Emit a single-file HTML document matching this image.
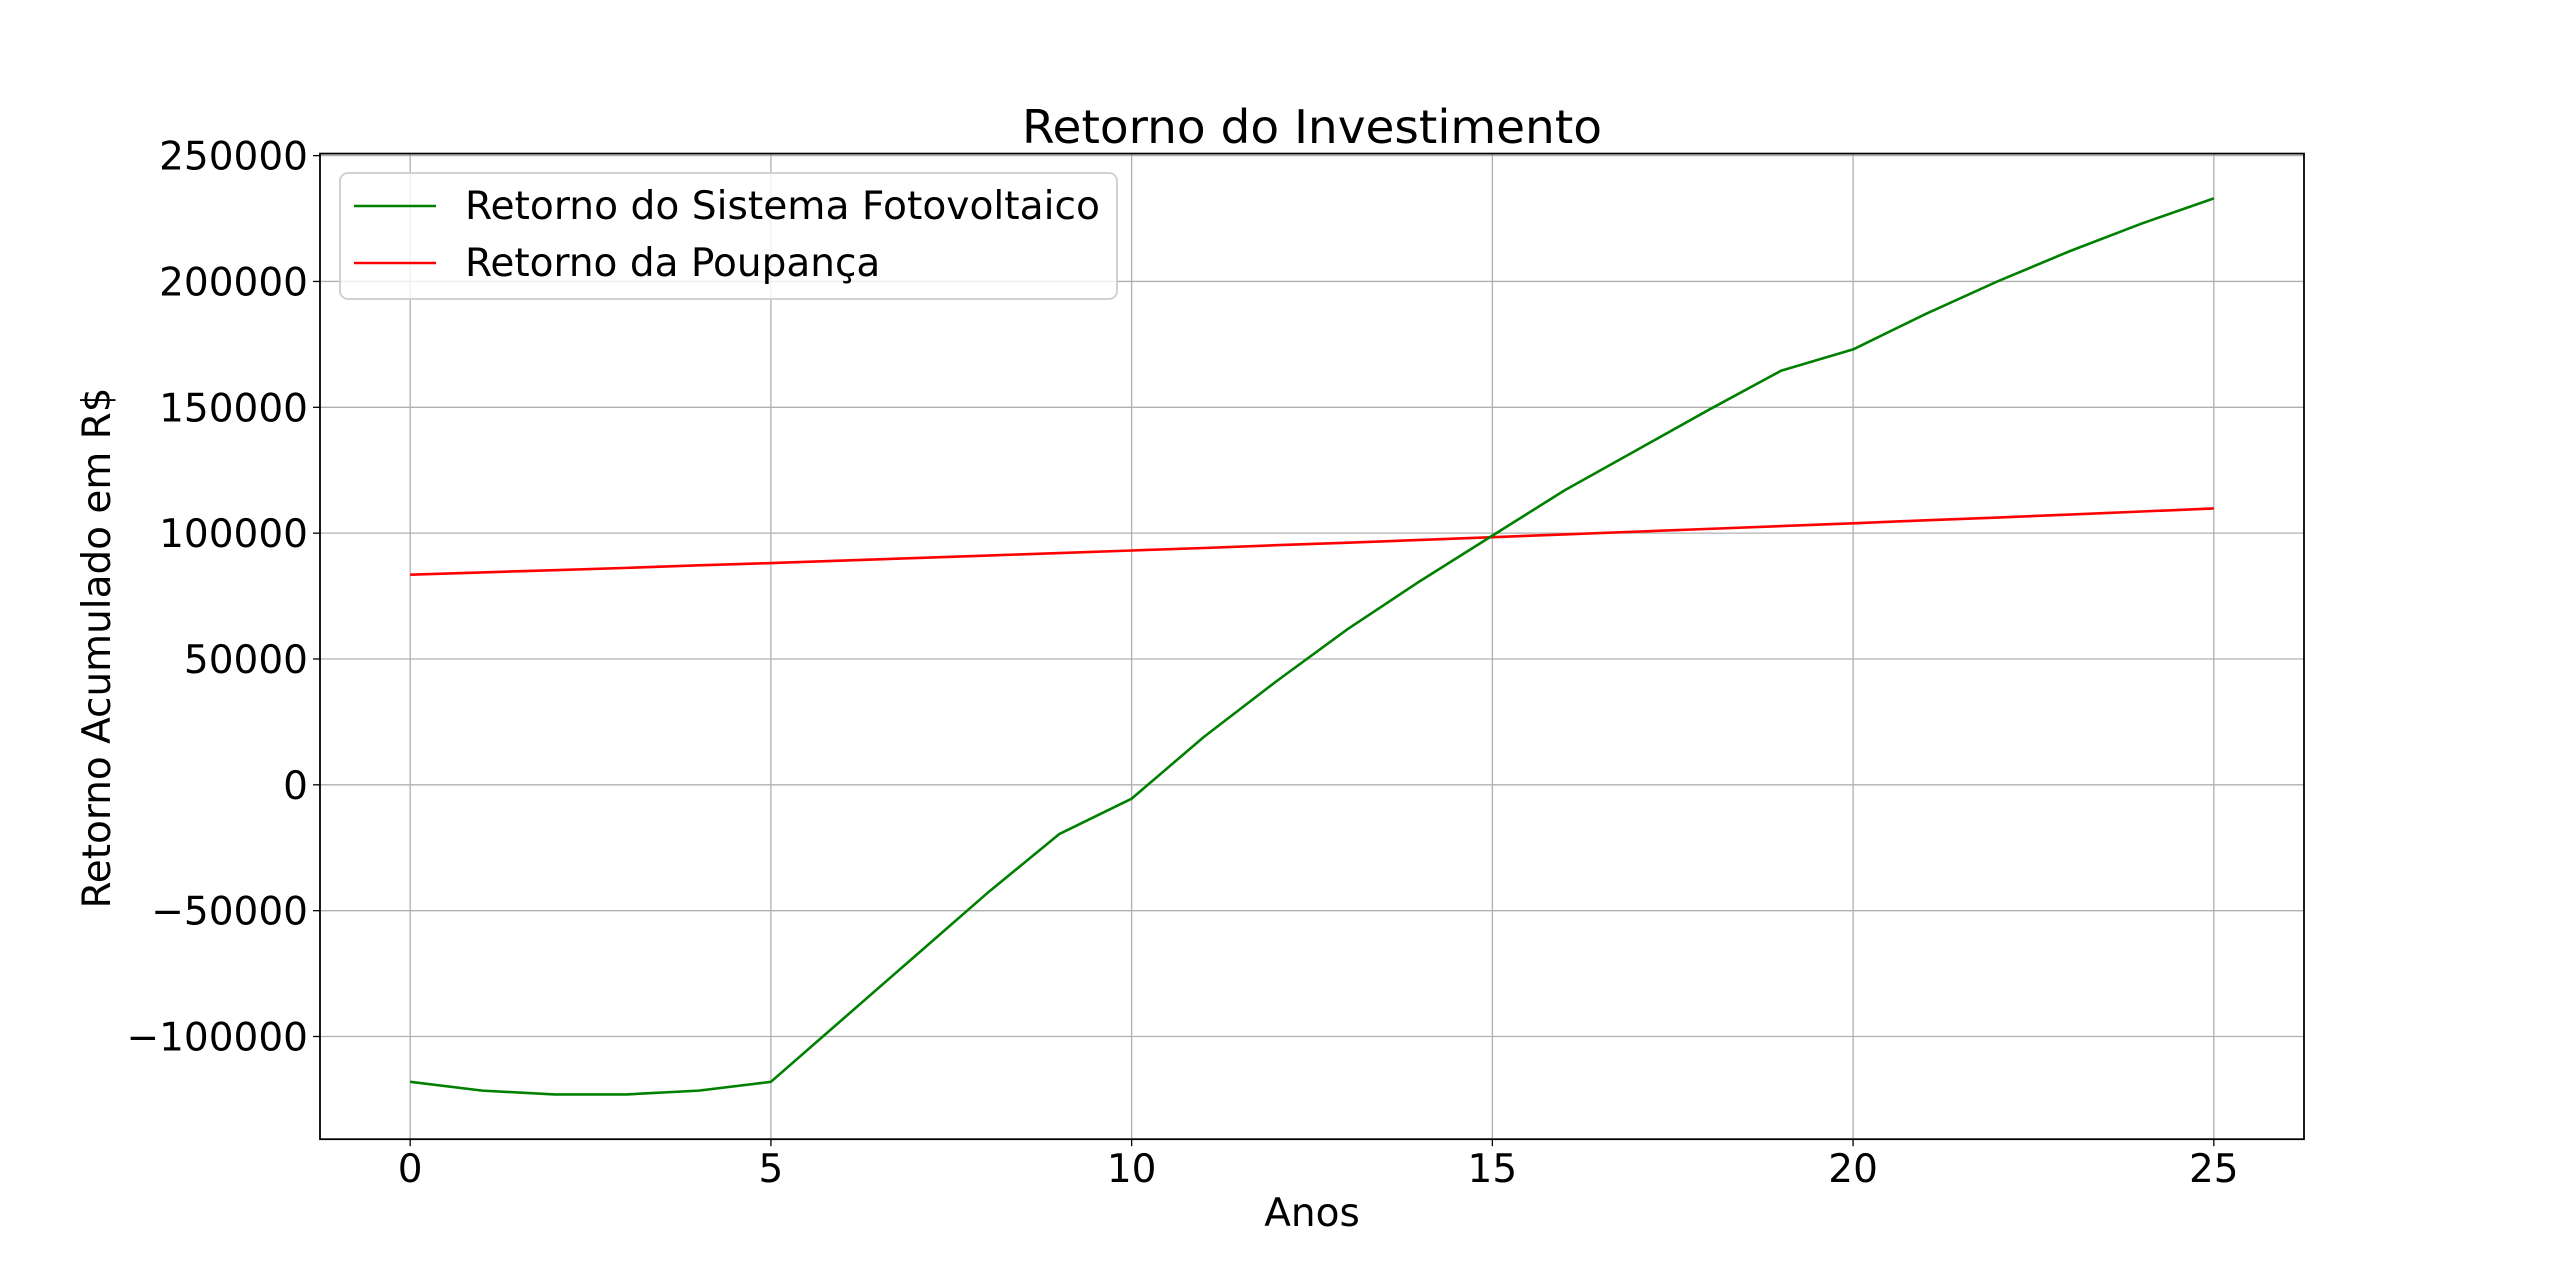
<!DOCTYPE html>
<html><head><meta charset="utf-8"><style>
html,body{margin:0;padding:0;background:#fff;}
svg{display:block;font-family:"DejaVu Sans","Liberation Sans",sans-serif;}
</style></head><body>
<svg id="chart" width="2560" height="1280" viewBox="0 0 2560 1280" xmlns="http://www.w3.org/2000/svg">
<rect width="2560" height="1280" fill="#fff"/>
<g id="grid"></g>
<g id="series"></g>
<rect x="320" y="153.6" width="1984" height="985.6" fill="none" stroke="#000" stroke-width="1.8"/>
<g id="ticks"></g>
<text x="1312" y="143" font-size="46" text-anchor="middle" textLength="580" lengthAdjust="spacingAndGlyphs">Retorno do Investimento</text>
<text x="1312" y="1226" font-size="39" text-anchor="middle">Anos</text>
<text transform="translate(110,648) rotate(-90)" font-size="39" text-anchor="middle" textLength="521" lengthAdjust="spacingAndGlyphs">Retorno Acumulado em R$</text>
<g>
<rect x="340" y="173" width="777" height="126" rx="8" fill="#fff" fill-opacity="0.8" stroke="#ccc" stroke-width="1.8"/>
<line x1="354" y1="206" x2="436" y2="206" stroke="#008000" stroke-width="2.6"/>
<text x="465" y="219" font-size="39" textLength="635" lengthAdjust="spacingAndGlyphs">Retorno do Sistema Fotovoltaico</text>
<line x1="354" y1="263" x2="436" y2="263" stroke="#ff0000" stroke-width="2.6"/>
<text x="465" y="276" font-size="39">Retorno da Poupança</text>
</g>
</svg>
<script>
const years = [0,1,2,3,4,5,6,7,8,9,10,11,12,13,14,15,16,17,18,19,20,21,22,23,24,25];
const fotovoltaico = [-118000,-121500,-123000,-123000,-121500,-118000,-93000,-68000,-43000,-19500,-5500,19000,41000,62000,81000,99000,117000,133000,149000,164500,173000,187000,200000,212000,223000,233000];
const poupanca = [83500,84400,85300,86200,87200,88100,89100,90100,91100,92100,93100,94100,95200,96200,97300,98400,99500,100600,101700,102800,103900,105100,106200,107400,108600,109800];
const xTicks = [0,5,10,15,20,25];
const yTicks = [-100000,-50000,0,50000,100000,150000,200000,250000];
const yTickLabels = ["\u2212100000","\u221250000","0","50000","100000","150000","200000","250000"];

const NS = "http://www.w3.org/2000/svg";
const L=320,R=2304,T=153.6,B=1139.2;
const xmin=-1.25,xmax=26.25,ymin=-140800,ymax=250800;
function sx(v){return L+(v-xmin)/(xmax-xmin)*(R-L);}
function sy(v){return B-(v-ymin)/(ymax-ymin)*(B-T);}
function mk(tag,attrs,parent){const e=document.createElementNS(NS,tag);for(const k in attrs)e.setAttribute(k,attrs[k]);parent.appendChild(e);return e;}
const grid=document.getElementById('grid'),ticks=document.getElementById('ticks'),series=document.getElementById('series');
xTicks.forEach(t=>{
  const x=sx(t);
  const g=mk('line',{x1:x,y1:T,x2:x,y2:B,stroke:'#b0b0b0','stroke-width':1.3},grid);
  
  
  const tk=mk('line',{x1:x,y1:B,x2:x,y2:B+7,stroke:'#000','stroke-width':1.3},ticks);
  
  
  const lb=mk('text',{x:x,y:1182,'font-size':39,'text-anchor':'middle'},ticks);
  lb.textContent=String(t);
  
  
});
yTicks.forEach((t,i)=>{
  const y=sy(t);
  const g=mk('line',{x1:L,y1:y,x2:R,y2:y,stroke:'#b0b0b0','stroke-width':1.3},grid);
  
  
  const tk=mk('line',{x1:L-7,y1:y,x2:L,y2:y,stroke:'#000','stroke-width':1.3},ticks);
  
  
  const lb=mk('text',{x:308,y:y+14,'font-size':39,'text-anchor':'end'},ticks);
  lb.textContent=yTickLabels[i];
  
  
});
function line(vals,color,name){
  const p=mk('polyline',{points:years.map((x,i)=>sx(x)+','+sy(vals[i])).join(' '),fill:'none',stroke:color,'stroke-width':2.6,'stroke-linejoin':'round'},series);
  
  
}
line(poupanca,'#ff0000','line-poupanca');
line(fotovoltaico,'#008000','line-fotovoltaico');
</script>
</body></html>
